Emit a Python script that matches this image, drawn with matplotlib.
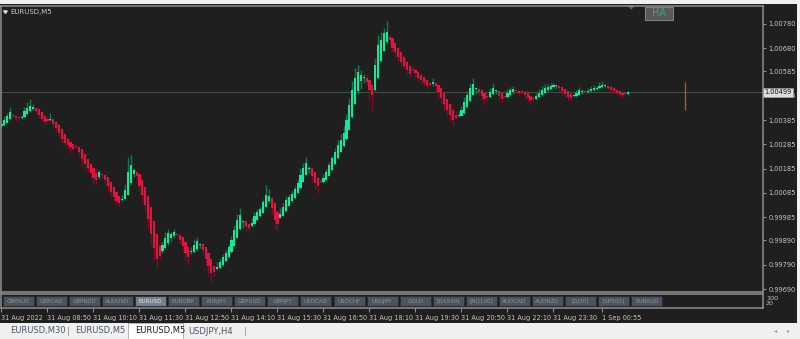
import numpy as np
import matplotlib.pyplot as plt
from matplotlib.patches import Rectangle, Polygon

W, H = 800, 339

# ── data ──────────────────────────────────────────────────────────────────
# Heiken Ashi close of each M5 bar, in points over 1.00000 (price = 1 + pts/1e5)
ha_close_pts = [
    369, 385, 402, 418, 402, 393, 393, 397, 422, 434, 443, 439, 422, 406, 389, 377, 381, 389, 369, 352,
    332, 307, 290, 282, 274, 266, 274, 253, 225, 204, 188, 167, 147, 138, 171, 159, 138, 114, 89, 68,
    52, 44, 60, 97, 171, 200, 180, 155, 114, 77, 36, -20, -85, -140, -185, -175, -130, -100, -80, -84,
    -75, -88, -108, -133, -162, -178, -158, -129, -112, -125, -150, -185, -215, -245, -240, -220, -200, -180, -160, -137,
    -108, -67, -26, -5, -30, -51, -59, -38, -9, 7, 19, 48, 77, 73, 23, -26, -42, 0, 27, 56,
    68, 80, 101, 126, 159, 188, 208, 188, 155, 126, 114, 130, 147, 171, 200, 229, 253, 282, 303, 332,
    385, 447, 509, 558, 583, 570, 558, 541, 509, 488, 611, 694, 714, 743, 747, 714, 681, 665, 644, 624,
    607, 591, 574, 591, 578, 558, 550, 537, 525, 529, 541, 525, 500, 476, 451, 426, 406, 385, 393, 406,
    426, 459, 488, 517, 533, 517, 500, 484, 471, 480, 500, 517, 505, 484, 471, 480, 496, 509, 513, 505,
    496, 500, 488, 476, 467, 471, 484, 496, 509, 517, 521, 525, 529, 525, 517, 505, 492, 480, 476, 484,
    496, 509, 505, 500, 505, 513, 517, 517, 525, 529, 525, 517, 509, 505, 496, 492, 488, 492, 500,
]
first_open_pts = 360
# shadow length above / below the body, points
wick_up_pts = [
    10, 15, 12, 20, 6, 5, 5, 8, 15, 25, 30, 12, 5, 4, 4, 3, 8, 25, 4, 3,
    3, 3, 3, 2, 2, 3, 12, 3, 2, 2, 2, 3, 2, 15, 8, 3, 3, 2, 2, 2,
    2, 2, 15, 25, 60, 40, 8, 4, 3, 2, 2, 2, 2, 2, 2, 20, 15, 25, 15, 10,
    10, 5, 3, 3, 2, 2, 20, 25, 15, 4, 3, 3, 2, 2, 4, 20, 12, 15, 10, 12,
    15, 20, 25, 30, 5, 4, 3, 20, 15, 12, 10, 12, 40, 30, 6, 4, 5, 25, 15, 15,
    12, 15, 12, 15, 30, 20, 25, 6, 4, 3, 3, 20, 15, 12, 12, 10, 15, 20, 25, 30,
    25, 30, 35, 40, 30, 20, 15, 15, 6, 4, 30, 40, 35, 20, 45, 6, 5, 5, 4, 3,
    3, 3, 3, 15, 5, 4, 3, 3, 3, 3, 15, 4, 3, 3, 3, 2, 2, 2, 15, 15,
    15, 20, 15, 20, 25, 5, 4, 4, 3, 8, 15, 20, 5, 4, 3, 10, 15, 12, 10, 6,
    5, 8, 4, 3, 3, 8, 12, 15, 15, 15, 12, 12, 10, 6, 4, 4, 3, 3, 8, 10,
    12, 10, 6, 6, 10, 12, 12, 10, 15, 15, 8, 5, 4, 4, 4, 3, 3, 5, 6,
]
wick_dn_pts = [
    8, 5, 3, 2, 10, 10, 8, 5, 3, 2, 2, 6, 10, 12, 14, 12, 8, 6, 12, 15,
    18, 20, 12, 15, 25, 10, 6, 15, 30, 25, 15, 20, 25, 15, 10, 12, 20, 25, 20, 18,
    15, 12, 5, 4, 3, 5, 12, 20, 25, 30, 28, 40, 45, 50, 40, 8, 5, 4, 8, 10,
    8, 12, 15, 20, 25, 30, 6, 5, 10, 15, 20, 25, 35, 40, 15, 5, 4, 3, 3, 4,
    3, 2, 2, 3, 25, 20, 15, 4, 3, 3, 3, 2, 2, 3, 30, 40, 25, 3, 2, 2,
    2, 2, 3, 3, 2, 3, 2, 15, 20, 25, 30, 5, 3, 3, 2, 2, 3, 2, 2, 3,
    2, 3, 4, 5, 15, 30, 20, 10, 40, 60, 5, 4, 3, 3, 8, 15, 18, 20, 15, 15,
    12, 15, 12, 6, 15, 12, 15, 10, 12, 10, 6, 20, 25, 20, 30, 25, 30, 20, 5, 4,
    3, 3, 2, 2, 2, 20, 15, 15, 20, 15, 5, 4, 12, 15, 15, 6, 5, 5, 6, 10,
    10, 8, 15, 15, 18, 8, 5, 4, 3, 3, 3, 4, 4, 10, 12, 15, 15, 18, 8, 5,
    4, 4, 8, 8, 5, 4, 3, 4, 3, 3, 8, 10, 12, 12, 10, 12, 10, 8, 4,
]

price_ticks = [1.00780, 1.00680, 1.00585, 1.00485, 1.00385, 1.00285, 1.00185,
               1.00085, 0.99985, 0.99890, 0.99790, 0.99690]
last_price = 1.00499
time_ticks = [0, 16, 32, 48, 64, 80, 96, 112, 128, 144, 160, 176, 192, 209]
time_labels = ["31 Aug 2022", "31 Aug 08:50", "31 Aug 10:10", "31 Aug 11:30",
               "31 Aug 12:50", "31 Aug 14:10", "31 Aug 15:30", "31 Aug 16:50",
               "31 Aug 18:10", "31 Aug 19:30", "31 Aug 20:50", "31 Aug 22:10",
               "31 Aug 23:30", "1 Sep 00:55"]
symbols = ["GBPAUD", "GBPCAD", "GBPNZD", "AUDUSD", "EURUSD", "EURGBP", "EURJPY",
           "GBPUSD", "GBPJPY", "USDCAD", "USDCHF", "USDJPY", "GOLD", "[DAX40]",
           "[NQ100]", "AUDCAD", "AUDNZD", "[DJ30]", "[SP500]", "EURAUD"]
active_symbol = "EURUSD"
tabs = ["EURUSD,M30", "EURUSD,M5", "EURUSD,M5", "USDJPY,H4"]
active_tab = 2
marker_bar = 237.6   # lone vertical marker right of the last bar

# ── heiken ashi ───────────────────────────────────────────────────────────
close = 1 + np.array(ha_close_pts) / 1e5
opens = np.empty_like(close)
opens[0] = 1 + first_open_pts / 1e5
for i in range(1, len(close)):
    opens[i] = (opens[i - 1] + close[i - 1]) / 2
top = np.maximum(opens, close)
bot = np.minimum(opens, close)
high = top + np.array(wick_up_pts) / 1e5
low = bot - np.array(wick_dn_pts) / 1e5
bull = close >= opens
xs = np.arange(len(close))

BG = "#1f1f1f"
GREEN, GREEN_D = "#14e89a", "#0d7a52"
RED, RED_D = "#e0143e", "#7e0d24"
FRAME = "#8e8e8e"
TXT = "#c6c6c6"

fig = plt.figure(figsize=(W / 100, H / 100), dpi=100, facecolor="#f0f0f0")


def px_axes(x0, y0, x1, y1):
    return fig.add_axes([x0 / W, 1 - y1 / H, (x1 - x0) / W, (y1 - y0) / H])


def px_rect(x0, y0, x1, y1, **kw):
    fig.add_artist(Rectangle((x0 / W, 1 - y1 / H), (x1 - x0) / W, (y1 - y0) / H,
                             transform=fig.transFigure, **kw))


# dark terminal panel
px_rect(0, 4, 797, 323, facecolor=BG, edgecolor="none", zorder=0)

# ── main price window ─────────────────────────────────────────────────────
ax = px_axes(1, 6, 763, 292)
ax.set_facecolor(BG)
xmin = -0.17
ax.set_xlim(xmin, xmin + 762 / 2.875)
ax.set_ylim(0.996777, 1.008540)
for s in ax.spines.values():
    s.set_color(FRAME)
    s.set_linewidth(1.1)

ax.axhline(last_price, color="#3f4d44", lw=0.8, zorder=1)
ax.vlines(xs, low, high, colors=np.where(bull, GREEN_D, RED_D), lw=1.0, zorder=2)
body_h = np.where(top - bot < 4e-5, 4e-5, top - bot)
ax.bar(xs, body_h, bottom=bot, width=0.72, color=np.where(bull, GREEN, RED),
       linewidth=0, zorder=3)

ax.vlines(marker_bar, 1.00426, 1.00541, color="#c0502e", lw=0.9, zorder=2)
ax.hlines(last_price, marker_bar - 0.3, marker_bar + 0.3, color="#c0502e", lw=0.8)

ax.set_xticks([])
ax.yaxis.set_ticks_position("right")
ax.set_yticks(price_ticks)
ax.set_yticklabels([f"{p:.5f}" for p in price_ticks])
ax.tick_params(axis="y", colors=FRAME, labelcolor=TXT, length=2.2, width=0.8,
               pad=1.5, labelsize=4.8)
ax.text(1.002, last_price, f"{last_price:.5f}", transform=ax.get_yaxis_transform(),
        fontsize=4.8, color="#111111", va="center", ha="left", zorder=10,
        bbox=dict(boxstyle="square,pad=0.25", facecolor="#dcdcdc",
                  edgecolor="#9a9a9a", linewidth=0.5), clip_on=False)

# title
ax.text(0.012, 0.978, "EURUSD,M5", transform=ax.transAxes, fontsize=5,
        color=TXT, va="center", ha="left")
ax.add_patch(Polygon([[0.0035, 0.983], [0.0082, 0.983], [0.0058, 0.974]],
                     closed=True, transform=ax.transAxes, color="#d8d8d8"))

# shift marker + HA button
ax.add_patch(Polygon([[0.8235, 1.0], [0.8305, 1.0], [0.827, 0.99]], closed=True,
                     transform=ax.transAxes, color="#5e5e5e", clip_on=False))
px_rect(645, 7, 673, 20, facecolor="#585858", edgecolor="#808080", lw=0.8, zorder=5)
fig.text(659 / W, 1 - 13.5 / H, "HA", fontsize=7, color="#2fae74",
         ha="center", va="center", zorder=6)

# ── indicator sub window with symbol buttons ──────────────────────────────
ax2 = px_axes(1, 294, 763, 308)
ax2.set_facecolor(BG)
ax2.set_xlim(xmin, xmin + 762 / 2.875)
ax2.set_yticks([])
for s in ax2.spines.values():
    s.set_color(FRAME)
    s.set_linewidth(1.1)
ax2.set_xticks(time_ticks)
ax2.set_xticklabels(time_labels, ha="left")
ax2.tick_params(axis="x", colors=FRAME, labelcolor=TXT, length=3, width=0.8,
                pad=1.8, labelsize=4.7)

for k, sym in enumerate(symbols):
    x0 = 2.5 + k * 33.1
    on = sym == active_symbol
    px_rect(x0, 296, x0 + 31, 306, facecolor="#74808e" if on else "#4b535c",
            edgecolor="#2a2e33", lw=0.6, zorder=5)
    fig.text((x0 + 15.5) / W, 1 - 301.2 / H, sym, fontsize=4.1,
             color="#e6e6e6" if on else "#8c949e", ha="center", va="center",
             zorder=6)

fig.text(766 / W, 1 - 298 / H, "100", fontsize=4.6, color=TXT, va="center")
fig.text(766 / W, 1 - 303.5 / H, "20", fontsize=4.6, color=TXT, va="center")

# ── tab strip ─────────────────────────────────────────────────────────────
tab_x = [10, 75, 135, 188]
px_rect(128, 323, 183, 339, facecolor="white", edgecolor="#a8a8a8", lw=0.6, zorder=1)
for k, (tx, name) in enumerate(zip(tab_x, tabs)):
    fig.text(tx / W, 1 - 331 / H, name, fontsize=6,
             color="#1a1a1a" if k == active_tab else "#4a5668",
             ha="left", va="center", zorder=2)
for sx in [68, 245]:
    fig.text(sx / W, 1 - 331 / H, "|", fontsize=6, color="#8a8a8a",
             ha="center", va="center")
fig.text(776 / W, 1 - 331 / H, "◂", fontsize=4.5, color="#9a9a9a", ha="center", va="center")
fig.text(789 / W, 1 - 331 / H, "▸", fontsize=4.5, color="#9a9a9a", ha="center", va="center")

fig.savefig("out.png", dpi=100, facecolor=fig.get_facecolor())
